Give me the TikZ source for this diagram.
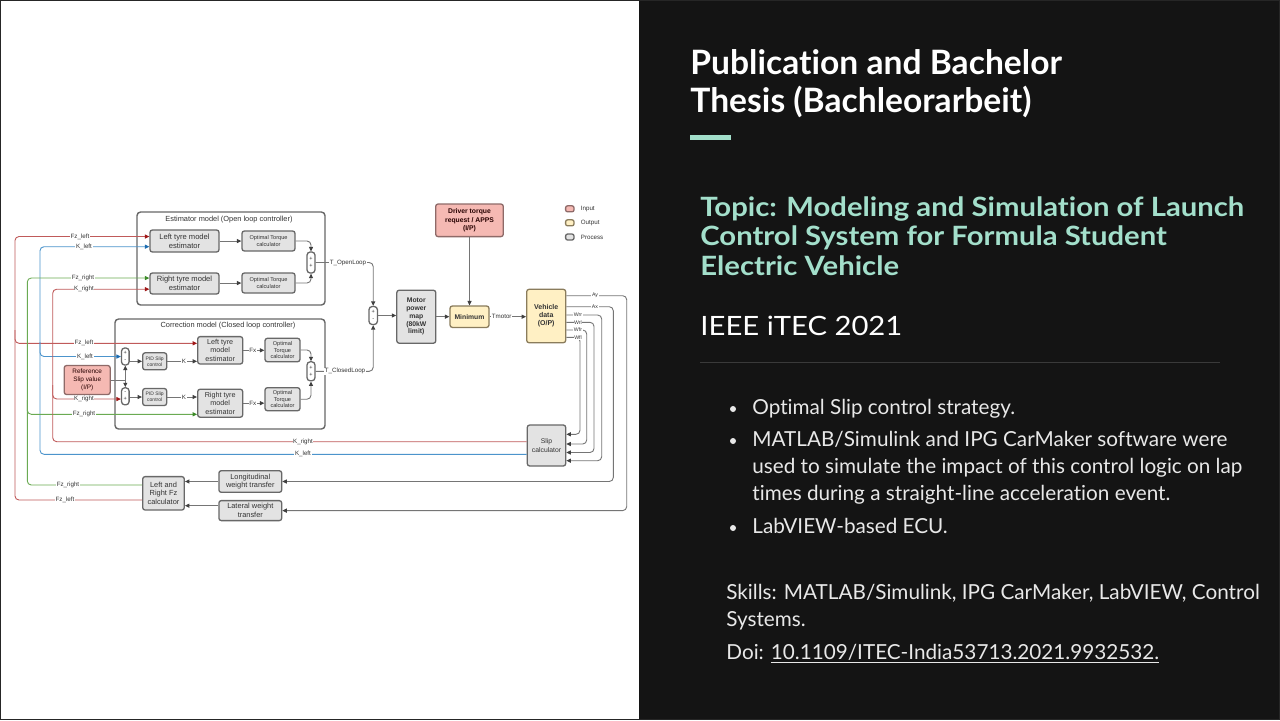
\documentclass[tikz,border=0pt]{standalone}
\usepackage{fontspec}
\setmainfont{Lato}[Ligatures=NoCommon]
\newfontfamily\widefont{Lato}[Ligatures=NoCommon, FakeStretch=1.1]
\newfontfamily\dgfont{Liberation Sans}
\usetikzlibrary{arrows.meta}

\definecolor{slidebg}{HTML}{141414}
\definecolor{mint}{HTML}{A3DFCB}
\definecolor{rulegray}{HTML}{3A3A3A}
\definecolor{bodytxt}{HTML}{E8E8E8}
\definecolor{boxline}{HTML}{686868}
\definecolor{procfill}{HTML}{E3E3E3}
\definecolor{infill}{HTML}{F5B9B3}
\definecolor{inedge}{HTML}{8E6A68}
\definecolor{outfill}{HTML}{FFF0C4}
\definecolor{outedge}{HTML}{8A7C5C}
\definecolor{wirered}{HTML}{C05A5A}
\definecolor{tipred}{HTML}{A01818}
\definecolor{wireblue}{HTML}{4C94CC}
\definecolor{tipblue}{HTML}{1C6CB0}
\definecolor{wiregreen}{HTML}{6AAA52}
\definecolor{tipgreen}{HTML}{3C8A28}
\definecolor{wiregray}{HTML}{757575}
\definecolor{dtext}{HTML}{333333}

\newcommand\dgsize[2]{\dgfont\fontsize{#1}{#2}\selectfont}

\begin{document}
\begin{tikzpicture}[x=0.5pt,y=-0.5pt,
  proc/.style={draw=boxline, fill=procfill, rounded corners=1.2pt, line width=0.65pt,
    align=center, inner sep=0pt, text=dtext},
  inbox/.style={proc, fill=infill, draw=inedge, text=black!75!red!60!black},
  outbox/.style={proc, fill=outfill, draw=outedge},
  sumbox/.style={proc, fill=white, rounded corners=1.6pt, font=\dgsize{2.8}{3.4}},
  grp/.style={draw=boxline, rounded corners=1.8pt, line width=0.7pt, inner sep=0pt},
  grptitle/.style={inner sep=0pt, text=dtext, font=\dgsize{3.7}{4.4}},
  wire/.style={line width=0.45pt, rounded corners=2pt},
  wg/.style={wire, draw=wiregray, -{Triangle[length=2.2pt,width=2pt,color=black!75]}},
  wr/.style={wire, draw=wirered, -{Triangle[length=2.2pt,width=2pt,color=tipred]}},
  wb/.style={wire, draw=wireblue, -{Triangle[length=2.2pt,width=2pt,color=tipblue]}},
  wgr/.style={wire, draw=wiregreen, -{Triangle[length=2.2pt,width=2pt,color=tipgreen]}},
  lbl/.style={fill=white, inner sep=0.3pt, text=dtext, font=\dgsize{3.1}{3.7}},
  slbl/.style={fill=white, inner sep=0.3pt, text=dtext, font=\dgsize{2.6}{3.1}},
  legtxt/.style={inner sep=0pt, anchor=west, text=dtext, font=\dgsize{3.1}{3.7}},
  titletxt/.style={inner sep=0pt, anchor=base west, text=white, font=\fontsize{16.8}{19}\selectfont\bfseries},
  topictxt/.style={inner sep=0pt, anchor=base west, text=mint, font=\widefont\fontsize{13.3}{15}\selectfont\bfseries},
  bodyline/.style={inner sep=0pt, anchor=base west, text=bodytxt, font=\fontsize{10.35}{13.5}\selectfont}
]
\useasboundingbox (0,0) rectangle (1280,720);

% slide halves
\fill[white] (0,0) rectangle (639,720);
\fill[slidebg] (639,0) rectangle (1280,720);
\draw[black!85, line width=0.6pt] (0.6,0.6) rectangle (1279.4,719.4);

% ---------------- right column: text ----------------
\node[titletxt] (title1) at (690,74) {Publication and Bachelor};
\node[titletxt] (title2) at (690,112) {Thesis (Bachleorarbeit)};
\fill[mint] (690,135) rectangle (731,139.5);

\node[topictxt] (topic1) at (700,216) {Topic: Modeling and Simulation of Launch};
\node[topictxt] (topic2) at (700,245.5) {Control System for Formula Student};
\node[topictxt] (topic3) at (700,275) {Electric Vehicle};

\node[inner sep=0pt, anchor=base west, text=white, font=\widefont\fontsize{13.3}{16}\selectfont] (venue) at (700,335) {IEEE iTEC 2021};
\draw[rulegray, line width=0.5pt] (700,362) -- (1220,362);

\fill[bodytxt] (733,409) circle (1.5pt);
\fill[bodytxt] (733,441) circle (1.5pt);
\fill[bodytxt] (733,528) circle (1.5pt);
\node[bodyline] (b1) at (752,414) {Optimal Slip control strategy.};
\node[bodyline] (b2a) at (752,446) {MATLAB/Simulink and IPG CarMaker software were};
\node[bodyline] (b2b) at (752,473) {used to simulate the impact of this control logic on lap};
\node[bodyline] (b2c) at (752,500) {times during a straight-line acceleration event.};
\node[bodyline] (b3) at (752,533) {LabVIEW-based ECU.};

\node[bodyline] (sk1) at (726,599) {Skills: MATLAB/Simulink, IPG CarMaker, LabVIEW, Control};
\node[bodyline] (sk2) at (726,626) {Systems.};
\node[bodyline] (doi) at (726,659) {Doi: \underline{10.1109/ITEC-India53713.2021.9932532.}};

% ---------------- left column: block diagram ----------------
% group frames
\node[grp, minimum width=94pt, minimum height=46.5pt] (estgrp) at (231,258.5) {};
\node[grptitle] (esttitle) at (229,219.5) {Estimator model (Open loop controller)};
\node[grp, minimum width=105pt, minimum height=55pt] (corgrp) at (220,374) {};
\node[grptitle] (cortitle) at (228,325.7) {Correction model (Closed loop controller)};

% estimator blocks
\node[proc, minimum width=34.5pt, minimum height=11pt, font=\dgsize{3.8}{4.5}] (ltyreA) at (184.5,241) {Left tyre model\\estimator};
\node[proc, minimum width=26.5pt, minimum height=10pt, font=\dgsize{2.8}{3.4}] (optA) at (268.5,241) {Optimal Torque\\calculator};
\node[proc, minimum width=34.5pt, minimum height=10.5pt, font=\dgsize{3.8}{4.5}] (rtyreA) at (184.5,283.5) {Right tyre model\\estimator};
\node[proc, minimum width=26.5pt, minimum height=10pt, font=\dgsize{2.8}{3.4}] (optB) at (268.5,283) {Optimal Torque\\calculator};
\node[sumbox, minimum width=4pt, minimum height=10.5pt] (sumE) at (311,262.5) {+\\+};

% correction blocks
\node[sumbox, minimum width=3.8pt, minimum height=8.5pt] (sumA) at (125.3,356.5) {+\\-};
\node[proc, minimum width=12pt, minimum height=8.5pt, font=\dgsize{2.5}{3}] (pidA) at (154.7,361.3) {PID Slip\\control};
\node[proc, minimum width=22.5pt, minimum height=13.7pt, font=\dgsize{3.6}{4.2}] (ltyreB) at (220.2,350.3) {Left tyre\\model\\estimator};
\node[proc, minimum width=17.5pt, minimum height=11.7pt, font=\dgsize{2.8}{3.3}] (optC) at (282.5,350) {Optimal\\Torque\\calculator};
\node[sumbox, minimum width=4pt, minimum height=9.5pt] (sumC) at (311,371.3) {+\\+};
\node[inbox, minimum width=23pt, minimum height=14.5pt, font=\dgsize{3.2}{3.9}] (refslip) at (87.2,380) {Reference\\Slip value\\(I/P)};
\node[sumbox, minimum width=3.8pt, minimum height=8.5pt] (sumB) at (125.3,396.3) {-\\+};
\node[proc, minimum width=12pt, minimum height=8.5pt, font=\dgsize{2.5}{3}] (pidB) at (154.7,397) {PID Slip\\control};
\node[proc, minimum width=22.5pt, minimum height=14pt, font=\dgsize{3.6}{4.2}] (rtyreB) at (220.2,403.2) {Right tyre\\model\\estimator};
\node[proc, minimum width=17.5pt, minimum height=11.5pt, font=\dgsize{2.8}{3.3}] (optD) at (282.5,399.2) {Optimal\\Torque\\calculator};

% torque path
\node[sumbox, minimum width=4.2pt, minimum height=9pt] (sumM) at (373.2,315.5) {+\\-};
\node[proc, minimum width=19.5pt, minimum height=26.5pt, font=\dgsize{3.4}{3.85}\bfseries] (motor) at (416.3,316.7) {Motor\\power\\map\\(80kW\\limit)};
\node[outbox, minimum width=19.5pt, minimum height=10.7pt, font=\dgsize{3.4}{4}\bfseries] (minimum) at (469.5,316.7) {Minimum};
\node[inbox, minimum width=33.8pt, minimum height=16.3pt, font=\dgsize{3.4}{4.1}\bfseries] (driver) at (469.5,220.3) {Driver torque\\request / APPS\\(I/P)};
\node[outbox, minimum width=19.5pt, minimum height=26.7pt, font=\dgsize{3.5}{4}\bfseries] (vehicle) at (546.2,316) {Vehicle\\data\\(O/P)};
\node[proc, minimum width=19.2pt, minimum height=20.5pt, font=\dgsize{3.4}{4.1}] (slip) at (546.5,445.5) {Slip\\calculator};

% load transfer
\node[proc, minimum width=31.4pt, minimum height=10.8pt, font=\dgsize{3.7}{4.4}] (longwt) at (250.3,481.5) {Longitudinal\\weight transfer};
\node[proc, minimum width=31.4pt, minimum height=10pt, font=\dgsize{3.7}{4.4}] (latwt) at (250.3,510.6) {Lateral weight\\transfer};
\node[proc, minimum width=20.8pt, minimum height=16.7pt, font=\dgsize{3.7}{4.4}] (fzcalc) at (163.5,493.3) {Left and\\Right Fz\\calculator};

% legend
\node[inbox, minimum width=4.2pt, minimum height=3pt, rounded corners=1pt] (legin) at (569.8,208.8) {};
\node[legtxt] (legintxt) at (580.5,208.8) {Input};
\node[outbox, minimum width=4.2pt, minimum height=3pt, rounded corners=1pt] (legout) at (569.8,222.8) {};
\node[legtxt] (legouttxt) at (580.5,222.8) {Output};
\node[proc, minimum width=4.2pt, minimum height=3pt, rounded corners=1pt] (legproc) at (569.8,237) {};
\node[legtxt] (legproctxt) at (580.5,237) {Process};

% ---- coloured feedback buses ----
% Fz_left
\draw[wr] (fzcalc.west |- 0,500) -- (15,500) -- (15,236.5) -- (ltyreA.west |- 0,236.5);
\draw[wr] (15,330) -- (15,343.3) -- (ltyreB.west |- 0,343.3);
% K_left
\draw[wb] (slip.west |- 0,454.3) -- (40,454.3) -- (40,246.7) -- (ltyreA.west |- 0,246.7);
\draw[wb] (40,342) -- (40,356.5) -- (sumA.west);
% Fz_right
\draw[wgr] (fzcalc.west |- 0,485) -- (27.3,485) -- (27.3,278) -- (rtyreA.west |- 0,278);
\draw[wgr] (27.3,400) -- (27.3,414.3) -- (rtyreB.west |- 0,414.3);
% K_right
\draw[wr] (slip.west |- 0,441.7) -- (52.7,441.7) -- (52.7,289.2) -- (rtyreA.west |- 0,289.2);
\draw[wr] (52.7,385) -- (52.7,399) -- (sumB.west |- 0,399);

\node[lbl] (lb1) at (80,236.5) {Fz\_left};
\node[lbl] (lb2) at (84,246.7) {K\_left};
\node[lbl] (lb3) at (83,278) {Fz\_right};
\node[lbl] (lb4) at (84,289.2) {K\_right};
\node[lbl] (lb5) at (84,343.3) {Fz\_left};
\node[lbl] (lb6) at (85,356.5) {K\_left};
\node[lbl] (lb7) at (84,399) {K\_right};
\node[lbl] (lb8) at (84,414.3) {Fz\_right};
\node[lbl] (lb9) at (303,441.7) {K\_right};
\node[lbl] (lb10) at (303,454.3) {K\_left};
\node[lbl] (lb11) at (68,485) {Fz\_right};
\node[lbl] (lb12) at (65,500) {Fz\_left};

% ---- estimator signal flow ----
\draw[wg] (ltyreA.east) -- (optA.west);
\draw[wg] (rtyreA.east |- optB.west) -- (optB.west);
\draw[wg] (optA.east) -| (sumE.north);
\draw[wg] (optB.east) -| (sumE.south);
\draw[wg] (sumE.east) -| (sumM.north);
\node[lbl] (lopen) at (348,262.5) {T\_OpenLoop};

% ---- correction signal flow ----
\draw[wg] (sumA.east |- pidA.west) -- (pidA.west);
\draw[wg] (pidA.east) -- (pidA.east -| ltyreB.west);
\draw[wg] (ltyreB.east) -- (ltyreB.east -| optC.west);
\draw[wg] (optC.east) -| (sumC.north);
\draw[wg] (sumB.east |- pidB.west) -- (pidB.west);
\draw[wg] (pidB.east) -- (pidB.east -| rtyreB.west);
\draw[wg] (rtyreB.east |- 0,403.2) -- (optD.west |- 0,403.2);
\draw[wg] (optD.east) -| (sumC.south);
\draw[wg, rounded corners=0pt] (refslip.east) -| (sumA.south);
\draw[wg, rounded corners=0pt] (refslip.east -| sumB.north) -- (sumB.north);
\draw[wg] (sumC.east) -| (sumM.south);
\node[lbl] (lk1) at (184,361.3) {K};
\node[lbl] (lfx1) at (252.7,350.3) {Fx};
\node[lbl] (lk2) at (184,397) {K};
\node[lbl] (lfx2) at (252.7,403.2) {Fx};
\node[lbl] (lclosed) at (345,371.3) {T\_ClosedLoop};

% ---- torque path ----
\draw[wg] (sumM.east) -- (sumM.east -| motor.west);
\draw[wg] (motor.east |- minimum.west) -- (minimum.west);
\draw[wg] (driver.south) -- (minimum.north);
\draw[wg] (minimum.east) -- (minimum.east -| vehicle.west);
\node[lbl] (ltm) at (501.7,316.7) {Tmotor};

% ---- vehicle outputs ----
\draw[wg] (vehicle.east |- 0,295.7) -- (626.7,295.7) -- (626.7,510.6) -- (latwt.east |- 0,510.6);
\draw[wg] (vehicle.east |- 0,306.7) -- (613.3,306.7) -- (613.3,481.5) -- (longwt.east);
\draw[wg] (vehicle.east |- 0,315) -- (601.7,315) -- (601.7,460.7) -- (slip.east |- 0,460.7);
\draw[wg] (vehicle.east |- 0,322.3) -- (594,322.3) -- (594,452.5) -- (slip.east |- 0,452.5);
\draw[wg] (vehicle.east |- 0,330) -- (586.7,330) -- (586.7,444) -- (slip.east |- 0,444);
\draw[wg] (vehicle.east |- 0,337.3) -- (580,337.3) -- (580,434.3) -- (slip.east |- 0,434.3);
\node[slbl] (lay) at (595,295.7) {Ay};
\node[slbl] (lax) at (595,306.7) {Ax};
\node[slbl] (lwrr) at (578,315) {Wrr};
\node[slbl] (lwrl) at (578,322.3) {Wrl};
\node[slbl] (lwfr) at (578,330) {Wfr};
\node[slbl] (lwfl) at (578,337.3) {Wfl};

% ---- load transfer to Fz ----
\draw[wg] (longwt.west) -- (longwt.west -| fzcalc.east);
\draw[wg] (latwt.west |- 0,505.7) -- (fzcalc.east |- 0,505.7);

\end{tikzpicture}
\end{document}
